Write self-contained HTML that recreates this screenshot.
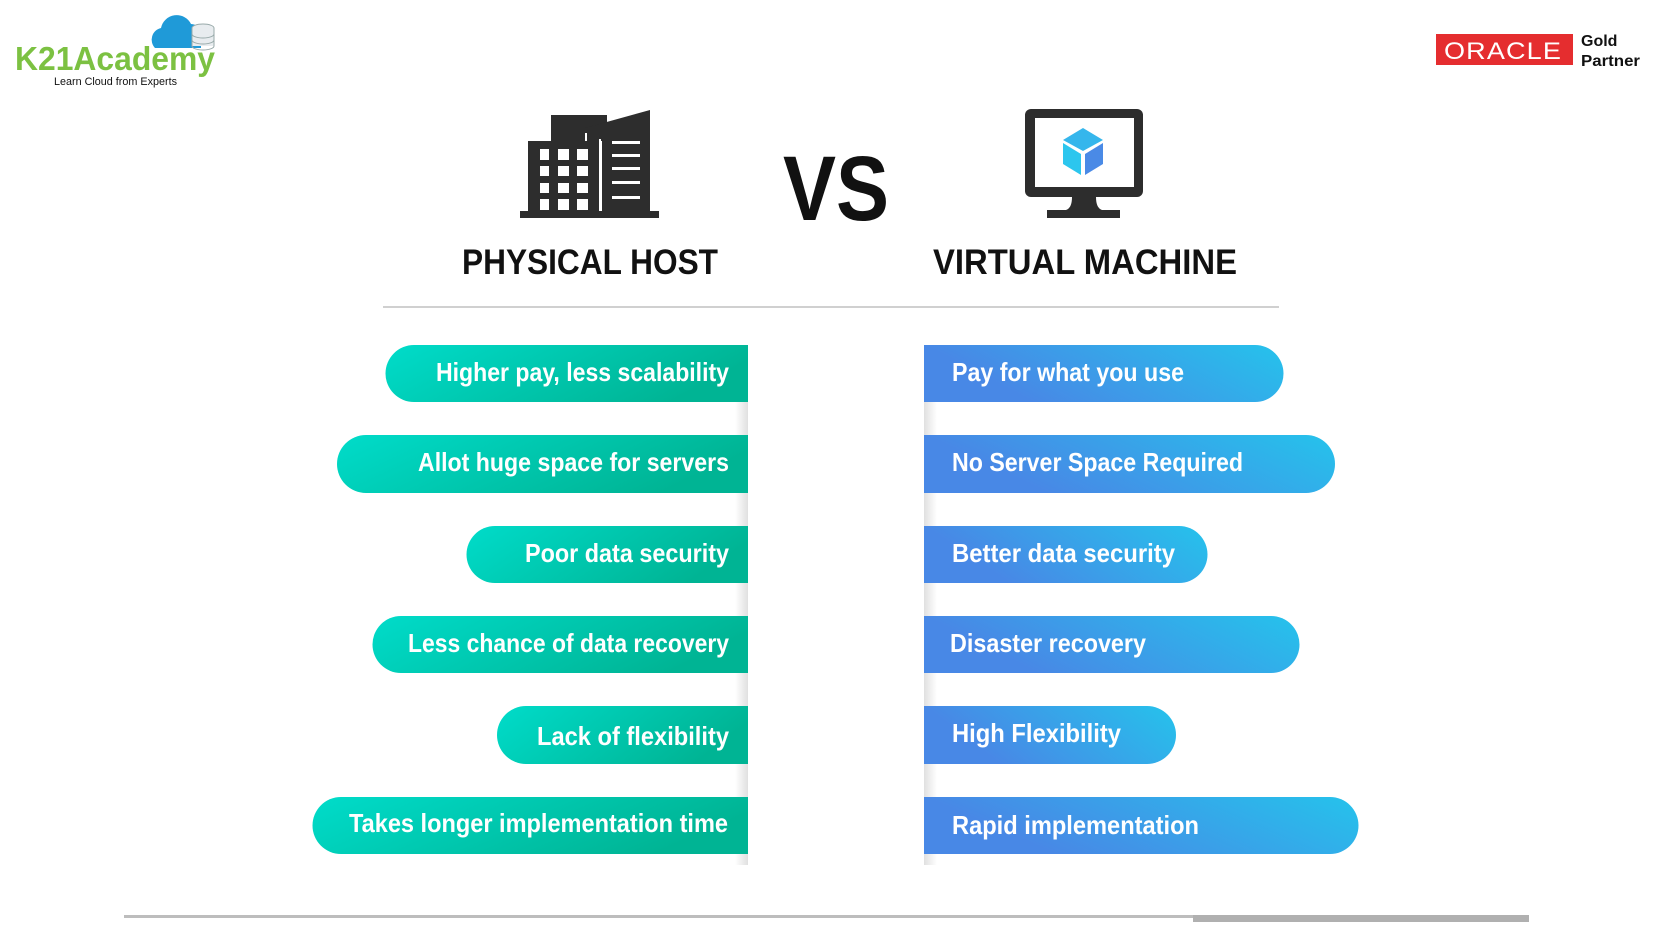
<!DOCTYPE html>
<html><head><meta charset="utf-8"><style>
html,body{margin:0;padding:0;background:#fff;width:1666px;height:938px;overflow:hidden}
svg{display:block}
text{font-family:"Liberation Sans",sans-serif}
</style></head><body>
<svg width="1666" height="938" viewBox="0 0 1666 938" xmlns="http://www.w3.org/2000/svg">
<defs>
<linearGradient id="gl" x1="0" y1="0" x2="1" y2="0.3"><stop offset="0" stop-color="#00dcca"/><stop offset="1" stop-color="#00b494"/></linearGradient>
<linearGradient id="gr" x1="0" y1="0" x2="1" y2="-0.3"><stop offset="0" stop-color="#4888e6"/><stop offset="1" stop-color="#22c8ec"/></linearGradient>
<linearGradient id="sl" x1="0" y1="0" x2="1" y2="0"><stop offset="0" stop-color="#fff"/><stop offset="1" stop-color="#e0e0e0"/></linearGradient>
<linearGradient id="sr" x1="0" y1="0" x2="1" y2="0"><stop offset="0" stop-color="#e0e0e0"/><stop offset="1" stop-color="#fff"/></linearGradient>
<linearGradient id="cube" x1="0" y1="0" x2="1" y2="0"><stop offset="0" stop-color="#2cc6ee"/><stop offset="1" stop-color="#4a8ae6"/></linearGradient>
</defs>

<!-- K21 logo -->
<path d="M155 48 a12 12 0 0 1 6 -20 a16 16 0 0 1 30 -4 a10 10 0 0 1 10 10 v14 z" fill="#1f9ad8"/>
<g fill="#e8ecef" stroke="#9aa" stroke-width="1">
<ellipse cx="203" cy="28" rx="11" ry="4"/><rect x="192" y="28" width="22" height="18" fill="#e8ecef" stroke="none"/>
<path d="M192 28 v18 a11 4 0 0 0 22 0 v-18" fill="none"/><path d="M192 34 a11 4 0 0 0 22 0 M192 40 a11 4 0 0 0 22 0" fill="none"/>
</g>
<text x="15" y="70" font-size="33" font-weight="bold" fill="#7cc142" textLength="200" lengthAdjust="spacingAndGlyphs">K21Academy</text>
<text x="54" y="85" font-size="11" fill="#111" textLength="123" lengthAdjust="spacingAndGlyphs">Learn Cloud from Experts</text>

<!-- Oracle -->
<rect x="1436" y="34" width="137" height="31" fill="#e52d2f"/>
<text x="1444" y="59" font-size="24" fill="#fff" textLength="118" lengthAdjust="spacingAndGlyphs" letter-spacing="1">ORACLE</text>
<text x="1581" y="46" font-size="16" font-weight="bold" fill="#111">Gold</text>
<text x="1581" y="66" font-size="16" font-weight="bold" fill="#111" textLength="59" lengthAdjust="spacingAndGlyphs">Partner</text>

<!-- Building -->
<g fill="#2d2d2d">
<rect x="520" y="211" width="139" height="7"/>
<rect x="551" y="115" width="56" height="26"/>
<path d="M585 137 L585 128 L650 110 L650 211 L602 211 L602 137 Z"/>
<rect x="528" y="141" width="71" height="70"/>
</g>
<g fill="#fff">
<rect x="540" y="149" width="9" height="11"/><rect x="558" y="149" width="11" height="11"/><rect x="577" y="149" width="11" height="11"/>
<rect x="540" y="166" width="9" height="10"/><rect x="558" y="166" width="11" height="10"/><rect x="577" y="166" width="11" height="10"/>
<rect x="540" y="183" width="9" height="10"/><rect x="558" y="183" width="11" height="10"/><rect x="577" y="183" width="11" height="10"/>
<rect x="540" y="199" width="9" height="11"/><rect x="558" y="199" width="11" height="11"/><rect x="577" y="199" width="11" height="11"/>
<rect x="612" y="141" width="28" height="3"/><rect x="612" y="154" width="28" height="3"/><rect x="612" y="167" width="28" height="3"/><rect x="612" y="181" width="28" height="3"/><rect x="612" y="196" width="28" height="3"/>
<rect x="599" y="139" width="2" height="72"/><rect x="585" y="133" width="2" height="8"/>
</g>

<!-- VS -->
<text x="836" y="220" font-size="92" font-weight="bold" fill="#111" text-anchor="middle" textLength="106" lengthAdjust="spacingAndGlyphs">VS</text>

<!-- Monitor -->
<rect x="1025" y="109" width="118" height="88" rx="6" fill="#2d2d2d"/>
<rect x="1035" y="118" width="99" height="69" fill="#fff"/>
<path d="M1072 197 h24 q0 11 6 13 h-36 q6 -2 6 -13z" fill="#2d2d2d"/>
<rect x="1047" y="210" width="73" height="8" fill="#2d2d2d"/>
<path d="M1083 128 L1103 140 L1083 151 L1063 140 Z" fill="#35b6ec"/>
<path d="M1063 143 L1081 154 L1081 175 L1063 164 Z" fill="#2cc6ee"/>
<path d="M1085 154 L1103 143 L1103 164 L1085 175 Z" fill="#4a8ae6"/>

<text x="590" y="274" font-size="35" font-weight="bold" fill="#111" text-anchor="middle" textLength="256" lengthAdjust="spacingAndGlyphs">PHYSICAL HOST</text>
<text x="1085" y="274" font-size="35" font-weight="bold" fill="#111" text-anchor="middle" textLength="304" lengthAdjust="spacingAndGlyphs">VIRTUAL MACHINE</text>
<rect x="383" y="306" width="896" height="2" fill="#d0d0d0"/>

<!-- shadow strips -->
<rect x="735" y="345" width="13" height="520" fill="url(#sl)"/>
<rect x="924" y="345" width="13" height="520" fill="url(#sr)"/>

<!-- Left pills -->
<g fill="url(#gl)">
<path d="M414 345 H748 V402 H414 a28.5 28.5 0 0 1 0 -57z"/>
<path d="M366 435 H748 V493 H366 a29 29 0 0 1 0 -58z"/>
<path d="M495 526 H748 V583 H495 a28.5 28.5 0 0 1 0 -57z"/>
<path d="M401 616 H748 V673 H401 a28.5 28.5 0 0 1 0 -57z"/>
<path d="M526 706 H748 V764 H526 a29 29 0 0 1 0 -58z"/>
<path d="M341 797 H748 V854 H341 a28.5 28.5 0 0 1 0 -57z"/>
</g>
<!-- Right pills -->
<g fill="url(#gr)">
<path d="M924 345 H1255 a28.5 28.5 0 0 1 0 57 H924z"/>
<path d="M924 435 H1306 a29 29 0 0 1 0 58 H924z"/>
<path d="M924 526 H1179 a28.5 28.5 0 0 1 0 57 H924z"/>
<path d="M924 616 H1271 a28.5 28.5 0 0 1 0 57 H924z"/>
<path d="M924 706 H1147 a29 29 0 0 1 0 58 H924z"/>
<path d="M924 797 H1330 a28.5 28.5 0 0 1 0 57 H924z"/>
</g>

<g font-size="26" font-weight="bold" fill="#fff" lengthAdjust="spacingAndGlyphs">
<text x="436" y="381" textLength="293" lengthAdjust="spacingAndGlyphs">Higher pay, less scalability</text>
<text x="418" y="471" textLength="311" lengthAdjust="spacingAndGlyphs">Allot huge space for servers</text>
<text x="525" y="562" textLength="204" lengthAdjust="spacingAndGlyphs">Poor data security</text>
<text x="408" y="652" textLength="321" lengthAdjust="spacingAndGlyphs">Less chance of data recovery</text>
<text x="537" y="745" textLength="192" lengthAdjust="spacingAndGlyphs">Lack of flexibility</text>
<text x="349" y="832" textLength="379" lengthAdjust="spacingAndGlyphs">Takes longer implementation time</text>
<text x="952" y="381" textLength="232" lengthAdjust="spacingAndGlyphs">Pay for what you use</text>
<text x="952" y="471" textLength="291" lengthAdjust="spacingAndGlyphs">No Server Space Required</text>
<text x="952" y="562" textLength="223" lengthAdjust="spacingAndGlyphs">Better data security</text>
<text x="950" y="652" textLength="196" lengthAdjust="spacingAndGlyphs">Disaster recovery</text>
<text x="952" y="742" textLength="169" lengthAdjust="spacingAndGlyphs">High Flexibility</text>
<text x="952" y="834" textLength="247" lengthAdjust="spacingAndGlyphs">Rapid implementation</text>
</g>

<!-- bottom line -->
<rect x="124" y="915" width="1405" height="3" fill="#bdbdbd"/>
<rect x="1193" y="915" width="336" height="7" fill="#b0b0b0"/>
</svg>
</body></html>
